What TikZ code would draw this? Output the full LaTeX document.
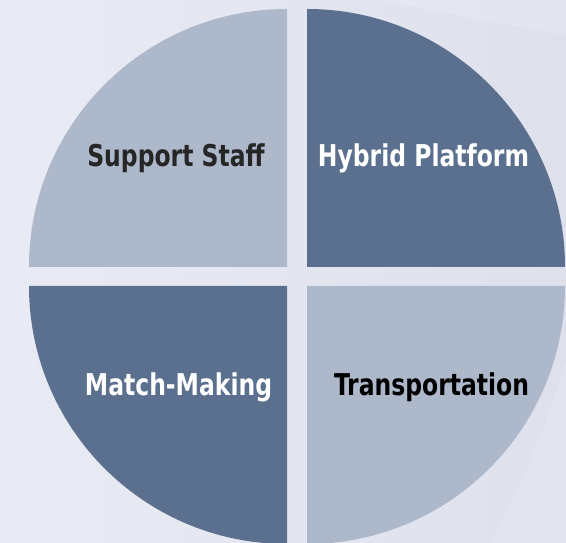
\documentclass[tikz,border=0pt]{standalone}
\usepackage{fontspec}
\setmainfont{DejaVu Sans Condensed}[FakeStretch=0.87]
\definecolor{bgA}{HTML}{E9EBF4}
\definecolor{bgB}{HTML}{DEE1EC}
\definecolor{quadLight}{HTML}{ADB8CA}
\definecolor{quadDark}{HTML}{5B6F8E}
\definecolor{txtDark}{HTML}{262626}
\tikzset{
  lbl/.style={font=\fontsize{30}{35}\selectfont\bfseries, anchor=base, inner sep=0pt},
  lightq/.style={fill=quadLight, draw=none},
  darkq/.style={fill=quadDark, draw=none}
}
\begin{document}
\begin{tikzpicture}[x=1pt,y=1pt]
\useasboundingbox (0,0) rectangle (566,543);
% background
\shade[left color=bgA, right color=bgB] (0,0) rectangle (566,543);
\fill[white, opacity=0.15] (380,543) .. controls (470,525) and (540,512) .. (566,508) -- (566,543) -- cycle;
\fill[white, opacity=0.12] (490,0) .. controls (530,70) and (552,140) .. (566,180) -- (566,0) -- cycle;
% quadrants
\fill[lightq] (287,276) -- (29,276) arc[start angle=180, end angle=90, radius=258] -- cycle;
\fill[darkq]  (307,276) -- (307,534) arc[start angle=90, end angle=0, radius=258] -- cycle;
\fill[darkq]  (287,257) -- (29,257) arc[start angle=180, end angle=270, radius=258] -- cycle;
\fill[lightq] (307,257) -- (565,257) arc[start angle=0, end angle=-90, radius=258] -- cycle;
% labels
\node[lbl, text=txtDark] (support) at (176,376) {Support Staff};
\node[lbl, text=white]   (hybrid)  at (423.5,376) {Hybrid Platform};
\node[lbl, text=white]   (match)   at (178.5,147) {Match-Making};
\node[lbl, text=black]   (transport) at (431.5,147) {Transportation};
\end{tikzpicture}
\end{document}
